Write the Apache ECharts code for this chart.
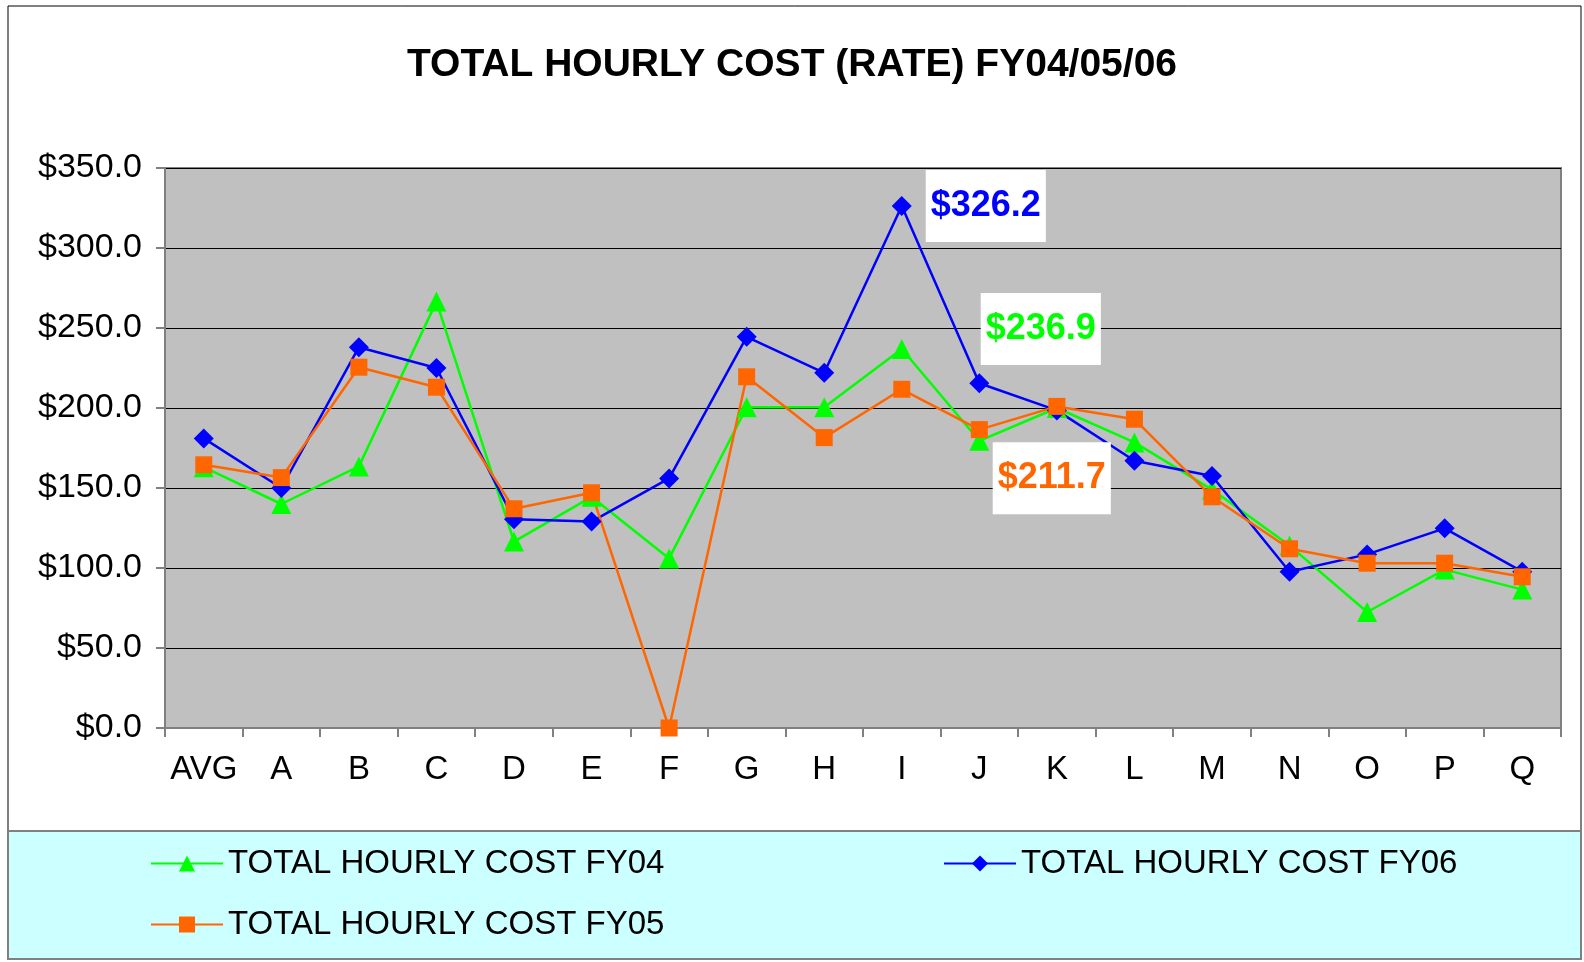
<!DOCTYPE html>
<html>
<head>
<meta charset="utf-8">
<script src="https://cdn.jsdelivr.net/npm/echarts@6/dist/echarts.min.js"></script>
<style>html,body{margin:0;padding:0;background:#fff}#c{width:1584px;height:962px}</style>
</head>
<body>
<div id="c"></div>
<script>
const categories = ['AVG','A','B','C','D','E','F','G','H','I','J','K','L','M','N','O','P','Q'];
const fy04 = [163, 140, 163.5, 266.5, 116.5, 144.5, 106, 200.5, 200.5, 236.9, 179.5, 200, 178.5, 149, 114, 72.5, 99, 86.5];
const fy06 = [181, 150, 238, 225, 130.5, 129, 156, 244.5, 222, 326.2, 215.5, 198.5, 167, 157.5, 97.7, 108.5, 124.8, 97.7];
const fy05 = [164.5, 156.5, 225.5, 213, 137, 147, 0, 219.5, 181.5, 211.7, 186.5, 201, 193, 144.5, 112, 103, 103, 94.5];
const seriesNames = ['TOTAL HOURLY COST FY04', 'TOTAL HOURLY COST FY06', 'TOTAL HOURLY COST FY05'];
const highlightIndex = 9;

const chart = echarts.init(document.getElementById('c'));
const money = v => '$' + Number(v).toFixed(1);
const FONT = 'Liberation Sans, Arial, sans-serif';

function withLabel(arr, color, offset) {
  return arr.map((v, i) => i === highlightIndex ? {
    value: v,
    label: {
      show: true, position: 'inside', offset: offset,
      formatter: p => money(p.value),
      color: color, fontFamily: FONT, fontWeight: 'bold', fontSize: 36,
      backgroundColor: '#fff', padding: [19, 5, 17, 5]
    }
  } : v);
}

chart.setOption({
  animation: false,
  backgroundColor: '#fff',
  title: {
    text: 'TOTAL HOURLY COST (RATE) FY04/05/06',
    left: 'center', top: 41,
    textStyle: { fontFamily: FONT, fontWeight: 'bold', fontSize: 39, color: '#000' }
  },
  graphic: [
    { type: 'rect', shape: { x: 8, y: 6, width: 1573, height: 950 }, style: { fill: 'none', stroke: '#000', lineWidth: 1 }, z: -1 },
    { type: 'rect', shape: { x: 8, y: 831, width: 1573, height: 128 }, style: { fill: '#CCFFFF', stroke: '#808080', lineWidth: 2 }, z: -1 }
  ],
  legend: [
    {
      data: [seriesNames[0], seriesNames[2]], orient: 'vertical', left: 145, top: 842, itemGap: 28,
      itemWidth: 72, itemHeight: 20,
      textStyle: { fontFamily: FONT, fontSize: 33, color: '#000' }
    },
    {
      data: [seriesNames[1]], orient: 'vertical', left: 938, top: 842,
      itemWidth: 72, itemHeight: 20,
      textStyle: { fontFamily: FONT, fontSize: 33, color: '#000' }
    }
  ],
  grid: {
    left: 165, right: 23, top: 168, bottom: 234,
    show: true, backgroundColor: '#C0C0C0', borderColor: '#808080', borderWidth: 2
  },
  xAxis: {
    type: 'category', data: categories, boundaryGap: true,
    axisLine: { lineStyle: { color: '#808080', width: 2 } },
    axisTick: { show: true, length: 9, interval: 0, lineStyle: { color: '#808080', width: 2 } },
    axisLabel: { interval: 0, color: '#000', fontFamily: FONT, fontSize: 33, margin: 25 }
  },
  yAxis: {
    type: 'value', min: 0, max: 350, interval: 50,
    axisLine: { show: true, lineStyle: { color: '#808080', width: 2 } },
    axisTick: { show: true, length: 9, lineStyle: { color: '#808080', width: 2 } },
    splitLine: { lineStyle: { color: '#000', width: 1 } },
    axisLabel: { color: '#000', fontFamily: FONT, fontSize: 34, margin: 23, formatter: money }
  },
  series: [
    {
      name: seriesNames[0], type: 'line', data: withLabel(fy04, '#00FF00', [139, -20]),
      symbol: 'triangle', symbolSize: 20, color: '#00FF00',
      lineStyle: { width: 2.5, color: '#00FF00' }, itemStyle: { color: '#00FF00' }
    },
    {
      name: seriesNames[1], type: 'line', data: withLabel(fy06, '#0000FF', [84, 0]),
      symbol: 'diamond', symbolSize: 20, color: '#0000FF',
      lineStyle: { width: 2.5, color: '#0000FF' }, itemStyle: { color: '#0000FF' }
    },
    {
      name: seriesNames[2], type: 'line', data: withLabel(fy05, '#FF6600', [150, 89]),
      symbol: 'rect', symbolSize: 17, color: '#FF6600',
      lineStyle: { width: 2.5, color: '#FF6600' }, itemStyle: { color: '#FF6600' }
    }
  ]
});
</script>
</body>
</html>
